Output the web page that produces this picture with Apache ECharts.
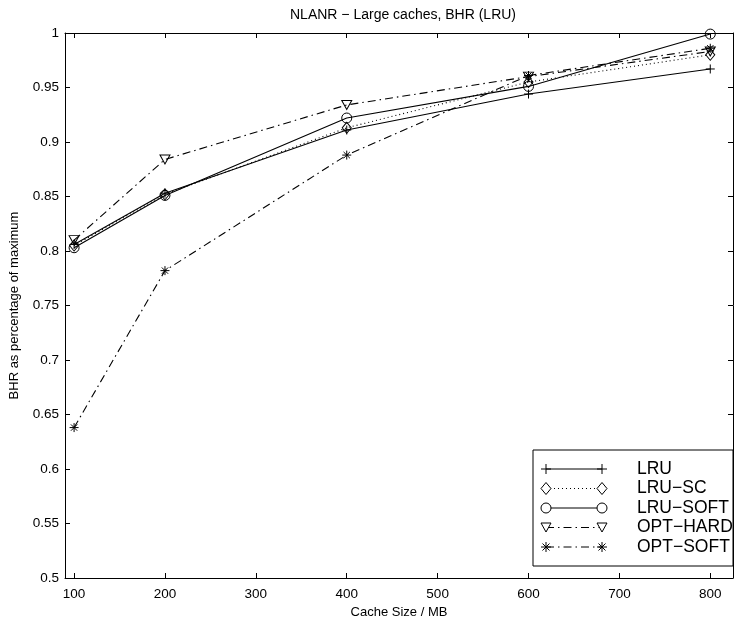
<!DOCTYPE html>
<html>
<head>
<meta charset="utf-8">
<script src="https://cdn.jsdelivr.net/npm/echarts@6/dist/echarts.min.js"></script>
<style>
  html, body { margin: 0; padding: 0; background: #fff; }
  #chart { width: 746px; height: 625px; }
</style>
</head>
<body>
<div id="chart"></div>
<script>
// Cache sizes (MB) and byte hit ratio relative to the maximum
const cacheSizes = [100, 200, 400, 600, 800];
const lru      = [0.806, 0.853, 0.911, 0.944, 0.967];
const lruSc    = [0.805, 0.852, 0.913, 0.955, 0.980];
const lruSoft  = [0.803, 0.851, 0.922, 0.951, 0.999];
const optHard  = [0.810, 0.884, 0.934, 0.960, 0.983];
const optSoft  = [0.638, 0.782, 0.888, 0.961, 0.986];
const xTicks = [100, 200, 300, 400, 500, 600, 700, 800];

const FONT = 'Liberation Sans, Arial, Helvetica, sans-serif';

// Stroke-only marker shapes
const SYM = {
  plus: 'path://M0,5L10,5M5,0L5,10',
  diamond: 'path://M5,0L10,6L5,12L0,6Z',
  circle: 'path://M10,5A5,5 0 1 1 0,5A5,5 0 1 1 10,5Z',
  triangle: 'path://M0,0L10,0L5,9Z',
  star: 'path://M0,5L10,5M5,0L5,10M1.5,1.5L8.5,8.5M8.5,1.5L1.5,8.5'
};

const DASHDOT = [8, 4, 1.5, 4];
const DOTTED = [1, 3];

const seriesDefs = [
  { name: 'LRU', data: lru, sym: 'plus', size: [9, 9], dash: 'solid' },
  { name: 'LRU\u2212SC', data: lruSc, sym: 'diamond', size: [9, 11], dash: DOTTED },
  { name: 'LRU\u2212SOFT', data: lruSoft, sym: 'circle', size: [10, 10], dash: 'solid' },
  { name: 'OPT\u2212HARD', data: optHard, sym: 'triangle', size: [10, 9], dash: DASHDOT },
  { name: 'OPT\u2212SOFT', data: optSoft, sym: 'star', size: [9, 9], dash: DASHDOT }
];

const series = seriesDefs.map(d => ({
  name: d.name,
  type: 'line',
  xAxisIndex: 0,
  yAxisIndex: 0,
  data: cacheSizes.map((x, i) => [x, d.data[i]]),
  symbol: SYM[d.sym],
  symbolSize: d.size,
  showSymbol: true,
  lineStyle: { color: '#000', width: 1.1, type: d.dash },
  itemStyle: { color: 'none', borderColor: '#000', borderWidth: 1 },
  emphasis: { disabled: true },
  animation: false,
  z: 3
}));

// Legend key: boxed, each line with a marker at both ends
const legendGraphics = [];
const lgLeft = 533, lgTop = 450, lgW = 200, lgH = 116;
legendGraphics.push({
  type: 'rect', shape: { x: lgLeft, y: lgTop, width: lgW, height: lgH },
  style: { fill: '#fff', stroke: '#000', lineWidth: 1 }, z: 10
});

const stroke = { fill: 'none', stroke: '#000', lineWidth: 1 };
function seg(x1, y1, x2, y2) {
  return { type: 'line', shape: { x1, y1, x2, y2 }, style: stroke, z: 12 };
}
function poly(points) {
  return { type: 'polygon', shape: { points }, style: { fill: '#fff', stroke: '#000', lineWidth: 1 }, z: 12 };
}
const keyMarker = {
  plus: (cx, cy) => [seg(cx - 5, cy, cx + 5, cy), seg(cx, cy - 5, cx, cy + 5)],
  diamond: (cx, cy) => [poly([[cx, cy - 6], [cx + 5, cy], [cx, cy + 6], [cx - 5, cy]])],
  circle: (cx, cy) => [{ type: 'circle', shape: { cx, cy, r: 5 }, style: { fill: '#fff', stroke: '#000', lineWidth: 1 }, z: 12 }],
  triangle: (cx, cy) => [poly([[cx - 5, cy - 4.5], [cx + 5, cy - 4.5], [cx, cy + 4.5]])],
  star: (cx, cy) => [
    seg(cx - 5, cy, cx + 5, cy), seg(cx, cy - 5, cx, cy + 5),
    seg(cx - 3.5, cy - 3.5, cx + 3.5, cy + 3.5), seg(cx + 3.5, cy - 3.5, cx - 3.5, cy + 3.5)
  ]
};

seriesDefs.forEach((d, i) => {
  const cy = 469 + i * 19.5;
  const x1 = 546, x2 = 602;
  legendGraphics.push({
    type: 'line', shape: { x1: x1, y1: cy, x2: x2, y2: cy },
    style: { fill: 'none', stroke: '#000', lineWidth: 1, lineDash: d.dash === 'solid' ? null : d.dash },
    z: 11
  });
  [x1, x2].forEach(cx => {
    keyMarker[d.sym](cx, cy).forEach(g => legendGraphics.push(g));
  });
  legendGraphics.push({
    type: 'text', x: 637, y: cy,
    style: { text: d.name, font: `17.5px ${FONT}`, fill: '#000', verticalAlign: 'middle', align: 'left' },
    z: 12
  });
});

const commonTick = { show: true, inside: true, length: 5, lineStyle: { color: '#000', width: 1 } };

const option = {
  backgroundColor: '#fff',
  animation: false,
  title: {
    text: 'NLANR \u2212 Large caches, BHR (LRU)',
    left: 398, top: 3, textAlign: 'center',
    textStyle: { fontFamily: FONT, fontSize: 14, fontWeight: 'normal', color: '#000' }
  },
  grid: { left: 63, right: 13, top: 33, bottom: 47, containLabel: false, show: false },
  xAxis: [
    {
      type: 'value', position: 'bottom', min: 90, max: 825,
      name: 'Cache Size / MB', nameLocation: 'middle', nameGap: 22,
      nameTextStyle: { fontFamily: FONT, fontSize: 13, color: '#000' },
      axisLine: { show: true, onZero: false, lineStyle: { color: '#000', width: 1 } },
      axisTick: Object.assign({ customValues: xTicks }, commonTick),
      axisLabel: { customValues: xTicks, fontFamily: FONT, fontSize: 13.5, color: '#000', margin: 9 },
      splitLine: { show: false }
    },
    {
      type: 'value', position: 'top', min: 90, max: 825,
      axisLine: { show: true, onZero: false, lineStyle: { color: '#000', width: 1 } },
      axisTick: Object.assign({ customValues: xTicks }, commonTick),
      axisLabel: { show: false },
      splitLine: { show: false }
    }
  ],
  yAxis: [
    {
      type: 'value', position: 'left', min: 0.5, max: 1, interval: 0.05,
      name: 'BHR as percentage of maximum', nameLocation: 'middle', nameGap: 44,
      nameTextStyle: { fontFamily: FONT, fontSize: 13, color: '#000' },
      axisLine: { show: true, onZero: false, lineStyle: { color: '#000', width: 1 } },
      axisTick: commonTick,
      axisLabel: {
        fontFamily: FONT, fontSize: 13.5, color: '#000', margin: 6,
        formatter: v => String(parseFloat(v.toFixed(2)))
      },
      splitLine: { show: false }
    },
    {
      type: 'value', position: 'right', min: 0.5, max: 1, interval: 0.05,
      axisLine: { show: true, onZero: false, lineStyle: { color: '#000', width: 1 } },
      axisTick: commonTick,
      axisLabel: { show: false },
      splitLine: { show: false }
    }
  ],
  series: series,
  graphic: legendGraphics
};

const chart = echarts.init(document.getElementById('chart'), null, { renderer: 'canvas' });
chart.setOption(option);
</script>
</body>
</html>
